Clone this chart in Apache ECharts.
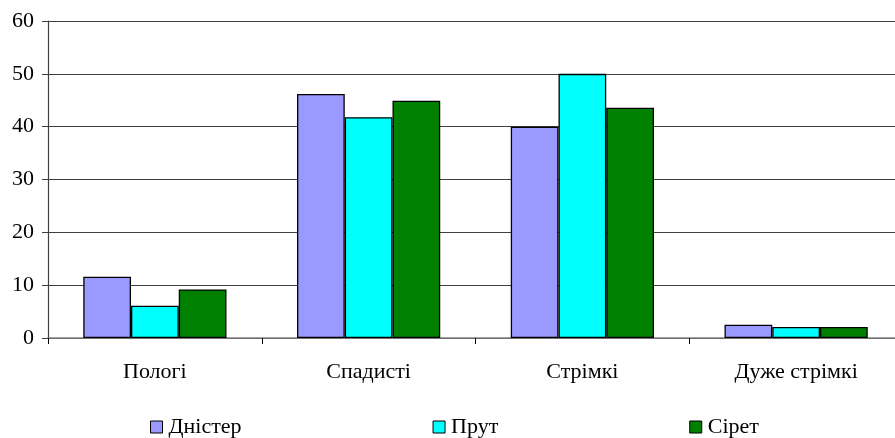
<!DOCTYPE html>
<html>
<head>
<meta charset="utf-8">
<script src="https://cdn.jsdelivr.net/npm/echarts@6/dist/echarts.min.js"></script>
<style>
  html, body { margin: 0; padding: 0; background: #fff; overflow: hidden; }
  /* plot runs a few pixels past the right edge of the window */
  #chart { width: 903px; height: 438px; }
</style>
</head>
<body>
<div id="chart"></div>
<script>
// Slope categories and share of each class per river basin
const categories = ['Пологі', 'Спадисті', 'Стрімкі', 'Дуже стрімкі'];
const dnister = [11.6, 46.2, 40.0, 2.5];
const prut = [6.1, 41.8, 50.0, 2.1];
const siret = [9.2, 44.9, 43.6, 2.1];
const yTicks = { min: 0, max: 60, interval: 10 };

const FONT = '"Liberation Serif", "Times New Roman", serif';

const chart = echarts.init(document.getElementById('chart'), null, { renderer: 'canvas' });

function barSeries(name, data, color) {
  return {
    name: name,
    type: 'bar',
    data: data,
    barGap: '0%',
    barCategoryGap: '33%',
    itemStyle: { color: color, borderColor: '#000', borderWidth: 1.3 },
    emphasis: { disabled: true }
  };
}

chart.setOption({
  animation: false,
  backgroundColor: '#fff',
  textStyle: { fontFamily: FONT, color: '#000' },
  grid: { left: 48, top: 21, right: 0, bottom: 100, containLabel: false },
  legend: {
    left: 145,
    top: 411,
    itemWidth: 12,
    itemHeight: 12,
    itemGap: 191,
    icon: 'rect',
    itemStyle: { borderColor: '#000', borderWidth: 1 },
    textStyle: { fontFamily: FONT, fontSize: 22, color: '#000', padding: [0, 0, 0, 1] },
    data: ['Дністер', 'Прут', 'Сірет']
  },
  xAxis: {
    type: 'category',
    data: categories,
    axisLine: { lineStyle: { color: '#808080', width: 1.5 } },
    axisTick: { show: true, length: 6, lineStyle: { color: '#000' } },
    axisLabel: { fontFamily: FONT, fontSize: 22, color: '#000', margin: 23 }
  },
  yAxis: {
    type: 'value',
    min: yTicks.min,
    max: yTicks.max,
    interval: yTicks.interval,
    axisLine: { show: true, lineStyle: { color: '#404040', width: 1.2 } },
    axisTick: { show: true, length: 6, lineStyle: { color: '#404040' } },
    axisLabel: { fontFamily: FONT, fontSize: 22, color: '#000', margin: 14 },
    splitLine: { show: true, lineStyle: { color: '#404040', width: 1.2 } }
  },
  series: [
    barSeries('Дністер', dnister, '#9999FF'),
    barSeries('Прут', prut, '#00FFFF'),
    barSeries('Сірет', siret, '#008000')
  ]
});
</script>
</body>
</html>
